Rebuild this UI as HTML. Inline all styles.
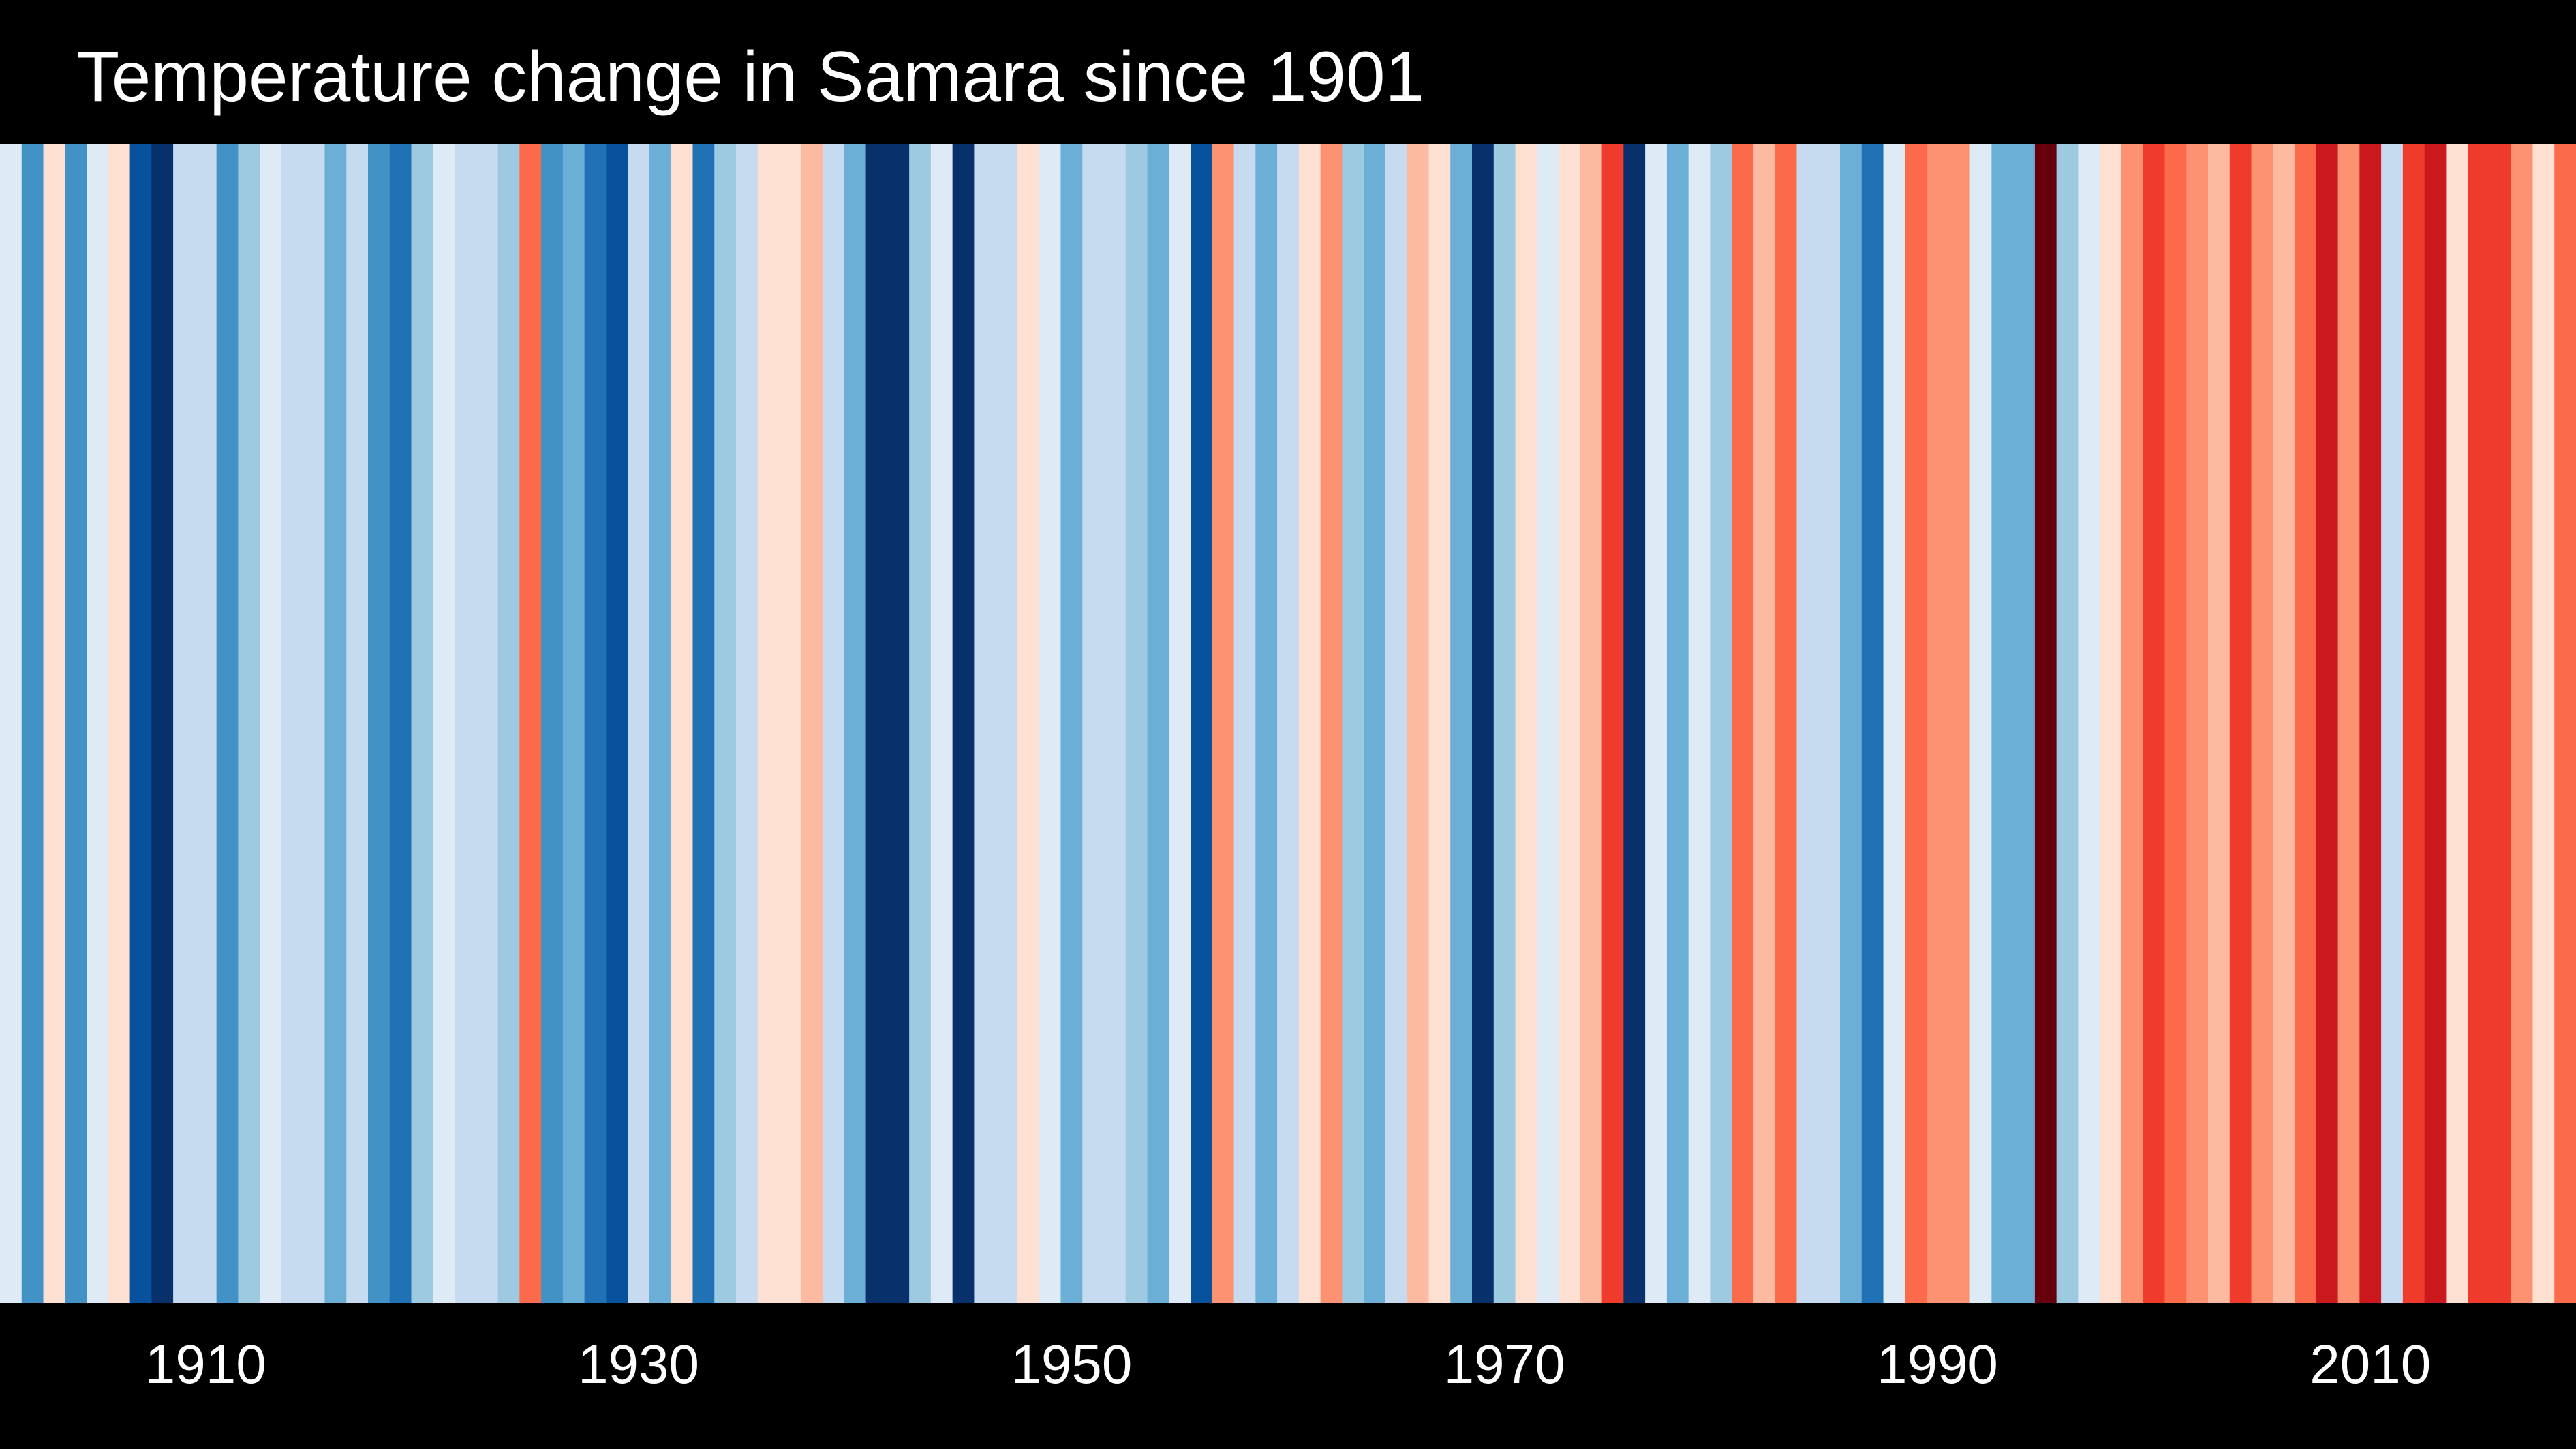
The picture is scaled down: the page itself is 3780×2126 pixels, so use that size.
<!DOCTYPE html>
<html><head><meta charset="utf-8"><style>
html,body{margin:0;padding:0;background:#000;width:3780px;height:2126px;overflow:hidden}
svg{display:block}
</style></head><body>
<svg id="chart" width="3780" height="2126" viewBox="0 0 3780 2126" xmlns="http://www.w3.org/2000/svg">
<rect x="0" y="0" width="3780" height="2126" fill="#000"/>
<text x="112" y="148" fill="#fff" font-family="Liberation Sans, sans-serif" font-size="104" textLength="1978" lengthAdjust="spacingAndGlyphs">Temperature change in Samara since 1901</text>
<g id="stripes"></g>
<g id="xaxis"></g>
</svg>
<script>
const startYear = 1901;
// anomaly levels: negative = blue (-8 coldest .. -1), positive = red (1 .. 7 hottest)
const levels = [
-1,-5,1,-5,-1,1,-7,-8,-2,-2,-5,-3,-1,-2,-2,-4,-2,-5,-6,-3,-1,-2,-2,-3,4,-5,-4,-6,-7,-2,
-4,1,-6,-3,-2,1,1,2,-2,-4,-8,-8,-3,-1,-8,-2,-2,1,-1,-4,-2,-2,-3,-4,-1,-7,3,-2,-4,-2,
1,3,-3,-4,-2,2,1,-4,-8,-3,1,-1,1,2,5,-8,-1,-4,-1,-3,4,2,4,-2,-2,-4,-6,-1,4,3,
3,-1,-4,-4,7,-3,-1,1,3,5,4,3,2,5,3,2,4,6,3,6,-2,5,6,1,5,5,3,1,4
];
const tickYears = [1910,1930,1950,1970,1990,2010];
const tickLabels = ["1910","1930","1950","1970","1990","2010"];

const blues = {"-8":"#08306b","-7":"#08519c","-6":"#2171b5","-5":"#4292c6","-4":"#6baed6","-3":"#9ecae1","-2":"#c6dbef","-1":"#deebf7"};
const reds = {"1":"#fee0d2","2":"#fcbba1","3":"#fc9272","4":"#fb6a4a","5":"#ef3b2c","6":"#cb181d","7":"#67000d"};
function color(v){ return v<0 ? blues[String(v)] : reds[String(v)]; }

const chartW = 3780, stripeTop = 212, stripeBottom = 1912;
const nStripes = levels.length;
const sw = chartW / nStripes;
function xOf(year){ return (year - startYear) * sw; }

const NS = "http://www.w3.org/2000/svg";
const g = document.getElementById('stripes');
levels.forEach((v,i)=>{
  const r = document.createElementNS(NS,'rect');
  
  
  r.setAttribute('x', xOf(startYear+i));
  r.setAttribute('y', stripeTop);
  r.setAttribute('width', sw+0.6);
  r.setAttribute('height', stripeBottom-stripeTop);
  r.setAttribute('fill', color(v));
  g.appendChild(r);
});
const ax = document.getElementById('xaxis');
tickYears.forEach((y,i)=>{
  const t = document.createElementNS(NS,'text');
  
  
  t.setAttribute('x', xOf(y) + sw/2);
  t.setAttribute('y', 2029);
  t.setAttribute('text-anchor', 'middle');
  t.setAttribute('fill', '#fff');
  t.setAttribute('font-family', 'Liberation Sans, sans-serif');
  t.setAttribute('font-size', '80');
  t.textContent = tickLabels[i];
  ax.appendChild(t);
});
</script>
</body></html>
